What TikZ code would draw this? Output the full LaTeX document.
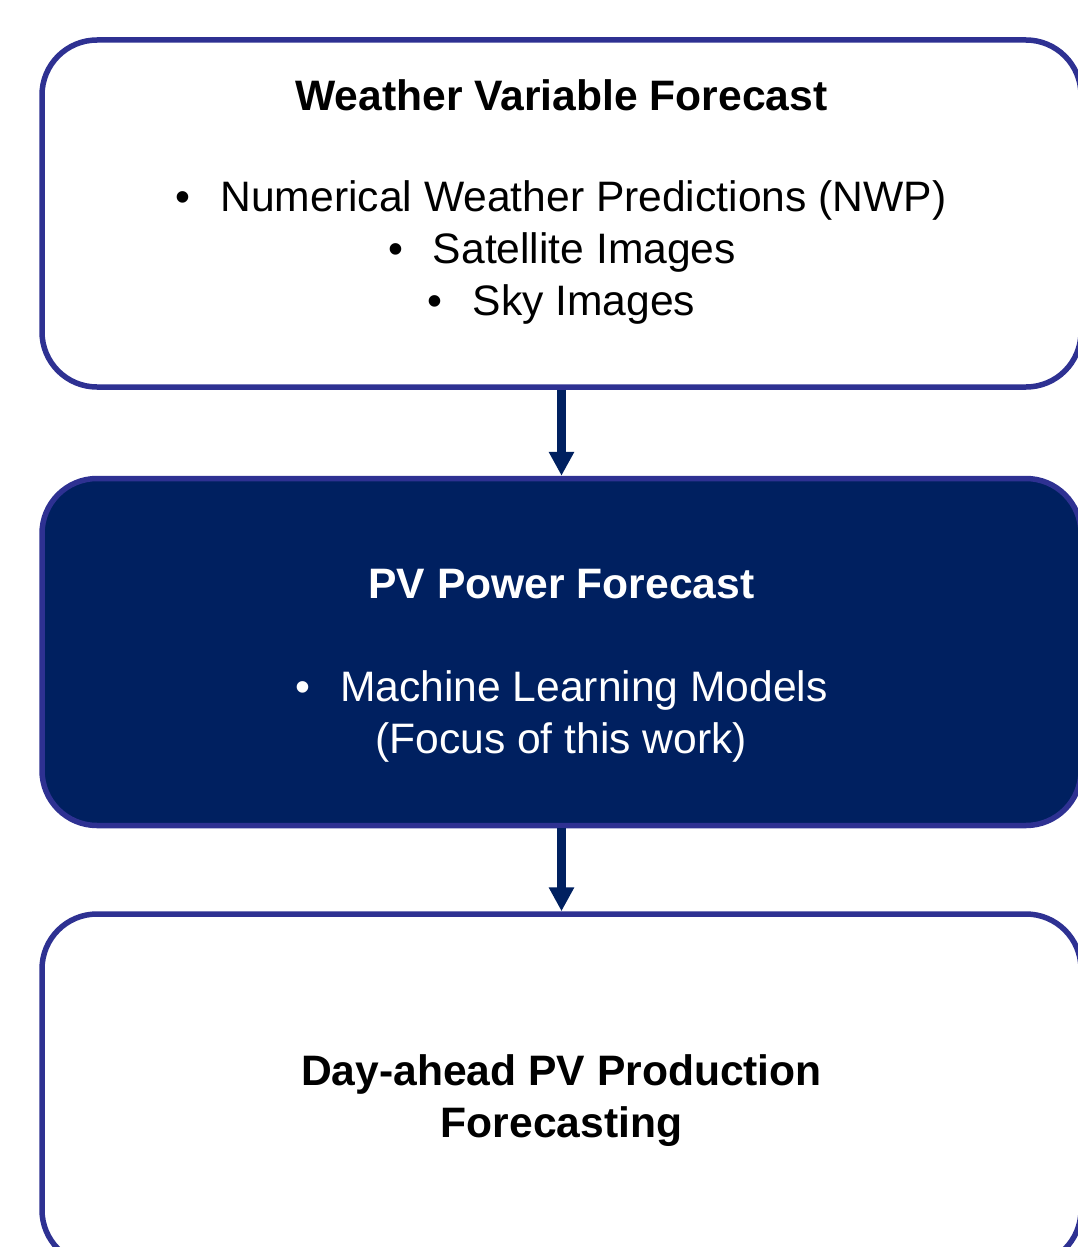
\documentclass[tikz,border=0pt]{standalone}
\usepackage{fontspec}
\setmainfont{Liberation Sans}
\usetikzlibrary{arrows.meta}

\definecolor{rimblue}{RGB}{46,49,146}
\definecolor{navy}{RGB}{0,32,96}
\newcommand{\itm}[1]{\textbullet\hspace{30pt}#1}

\begin{document}
\begin{tikzpicture}[x=1pt,y=-1pt,
  stage/.style={draw=rimblue,line width=5.5pt,rounded corners=55pt,
    minimum width=1039pt,minimum height=347pt,inner sep=0pt},
  heading/.style={anchor=base,font=\fontsize{42.6}{52}\selectfont\bfseries},
  entry/.style={anchor=base,font=\fontsize{42.6}{52}\selectfont},
  flow/.style={draw=navy,line width=9pt,-{Triangle[width=24pt,length=24pt]}}]
  \useasboundingbox (0,0) rectangle (1078,1247);
  \clip (0,0) rectangle (1078,1247);
  % the three stages
  \node[stage,fill=white] (weather) at (561.5,213.5) {};
  \node[stage,fill=navy] (pvpower) at (561.5,652) {};
  \node[stage,fill=white,minimum height=351pt] (dayahead) at (561.5,1089.5) {};
  % texts
  \node[heading] (wtitle) at (561.5,110) {Weather Variable Forecast};
  \node[entry] (nwp) at (561,211) {\itm{Numerical Weather Predictions (NWP)}};
  \node[entry] (sat) at (562,263) {\itm{Satellite Images}};
  \node[entry] (sky) at (561.5,315) {\itm{Sky Images}};
  \node[heading,text=white] (ptitle) at (561.5,598) {PV Power Forecast};
  \node[entry,text=white] (ml) at (561.5,701) {\itm{Machine Learning Models}};
  \node[entry,text=white] (focus) at (561,753) {(Focus of this work)};
  \node[heading] (dtitle) at (561.5,1085) {Day-ahead PV Production};
  \node[heading] (dtitle2) at (561.5,1137) {Forecasting};
  % arrows
  \draw[flow] (weather.south) -- (pvpower.north);
  \draw[flow] (pvpower.south) -- (dayahead.north);
\end{tikzpicture}
\end{document}
